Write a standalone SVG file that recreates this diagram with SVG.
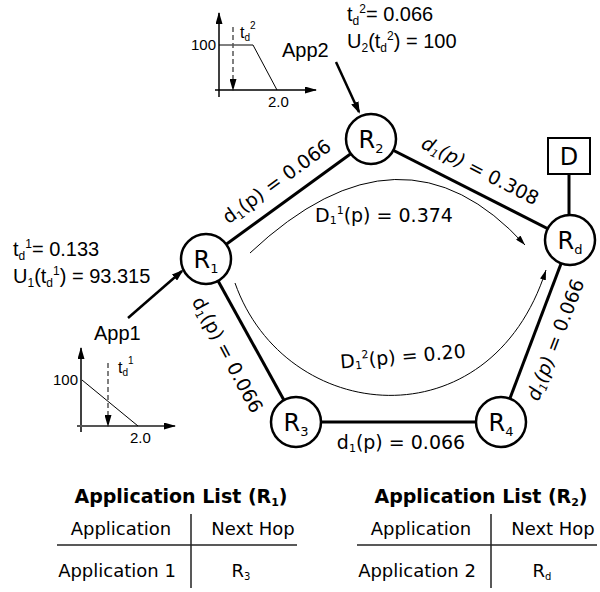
<svg xmlns="http://www.w3.org/2000/svg" width="600" height="592" viewBox="0 0 600 592">
<defs>
<style>
.ar{font-family:"Liberation Sans",Arial,sans-serif;fill:#000}
.vd{font-family:"DejaVu Sans",Verdana,sans-serif;fill:#000}
.big{font-size:20px}
.chart{font-size:15px}
.lab{font-size:19px}
.node{font-size:24px}
.tb{font-size:18px}
.edge{stroke:#000;stroke-width:3;fill:none}
.circ{fill:#fff;stroke:#000;stroke-width:2.5}
.thin{stroke:#000;stroke-width:1;fill:none}
.axis{stroke:#000;stroke-width:1.5;fill:none}
.dash{stroke:#555;stroke-width:1.5;stroke-dasharray:5,3;fill:none}
.rule{stroke:#222;stroke-width:1.5}
</style>
<marker id="ahBig" markerWidth="12" markerHeight="8" refX="10" refY="4" orient="auto" markerUnits="userSpaceOnUse"><path d="M0,0 L12,4 L0,8 Z" fill="#000"/></marker>
<marker id="ahSm" markerWidth="12" markerHeight="7" refX="11" refY="3.5" orient="auto" markerUnits="userSpaceOnUse"><path d="M0,0 L12,3.5 L0,7 Z" fill="#000"/></marker>
<marker id="ahCv" markerWidth="10" markerHeight="6" refX="10" refY="3" orient="auto" markerUnits="userSpaceOnUse"><path d="M0,0 L10,3 L0,6 Z" fill="#000"/></marker>
</defs>
<rect width="600" height="592" fill="#fff"/>

<g id="connectors">
<line class="edge" x1="206" y1="259" x2="371" y2="139"/>
<line class="edge" x1="371" y1="139" x2="570" y2="240"/>
<line class="edge" x1="570" y1="240" x2="501" y2="422"/>
<line class="edge" x1="501" y1="422" x2="296" y2="422"/>
<line class="edge" x1="296" y1="422" x2="206" y2="259"/>
<line class="edge" x1="569" y1="174" x2="569" y2="215"/>
<path class="thin" d="M250,253 Q402,110 525,245" marker-end="url(#ahCv)"/>
<path class="thin" d="M235,283 C285,425 490,445 546,270" marker-end="url(#ahCv)"/>
<line stroke="#000" stroke-width="2.5" x1="336" y1="62" x2="359" y2="112" marker-end="url(#ahBig)"/>
<line stroke="#000" stroke-width="2.5" x1="128" y1="318" x2="182" y2="271" marker-end="url(#ahBig)"/>
</g>

<g id="edge-labels">
<text class="vd lab" transform="translate(277,182) rotate(-36)" y="6" text-anchor="middle">d<tspan font-size="11" dy="3">1</tspan><tspan dy="-3">(p) = 0.066</tspan></text>
<text class="vd lab" transform="translate(480,171) rotate(27)" y="6" text-anchor="middle"><tspan font-style="italic">d</tspan><tspan font-size="11" dy="3" font-style="italic">1</tspan><tspan dy="-3" font-style="italic">(p)</tspan> = 0.308</text>
<text class="vd lab" transform="translate(556,340) rotate(-69)" y="6" text-anchor="middle"><tspan font-style="italic">d</tspan><tspan font-size="11" dy="3" font-style="italic">1</tspan><tspan dy="-3" font-style="italic">(p)</tspan> = 0.066</text>
<text class="vd lab" transform="translate(227,355) rotate(62)" y="6" text-anchor="middle">d<tspan font-size="11" dy="3">1</tspan><tspan dy="-3">(p) = 0.066</tspan></text>
<text class="vd lab" x="401" y="449" text-anchor="middle">d<tspan font-size="11" dy="3">1</tspan><tspan dy="-3">(p) = 0.066</tspan></text>
<text class="vd lab" x="315" y="222">D<tspan font-size="11" dy="2">1</tspan><tspan font-size="11" dy="-10">1</tspan><tspan dy="8">(p) = 0.374</tspan></text>
<text class="vd lab" transform="translate(403,357) rotate(-5)" y="6" text-anchor="middle">D<tspan font-size="11" dy="2">1</tspan><tspan font-size="11" dy="-10">2</tspan><tspan dy="8">(p) = 0.20</tspan></text>
</g>

<g id="node-R1"><circle class="circ" cx="206" cy="259" r="25"/><text class="vd node" x="206" y="268" text-anchor="middle">R<tspan font-size="13" dy="5">1</tspan></text></g>
<g id="node-R2"><circle class="circ" cx="371" cy="139" r="25"/><text class="vd node" x="371" y="148" text-anchor="middle">R<tspan font-size="13" dy="5">2</tspan></text></g>
<g id="node-Rd"><circle class="circ" cx="570" cy="240" r="25"/><text class="vd node" x="570" y="249" text-anchor="middle">R<tspan font-size="13" dy="5">d</tspan></text></g>
<g id="node-R3"><circle class="circ" cx="296" cy="422" r="25"/><text class="vd node" x="296" y="431" text-anchor="middle">R<tspan font-size="13" dy="5">3</tspan></text></g>
<g id="node-R4"><circle class="circ" cx="501" cy="422" r="25"/><text class="vd node" x="501" y="431" text-anchor="middle">R<tspan font-size="13" dy="5">4</tspan></text></g>
<g id="node-D"><rect x="548" y="138" width="42" height="36" fill="#fff" stroke="#000" stroke-width="2"/><text class="vd node" x="569" y="165" text-anchor="middle">D</text></g>

<g id="app2">
<text class="ar big" x="282" y="57">App2</text>
<text class="ar big" x="347" y="21">t<tspan font-size="12" dy="4">d</tspan><tspan font-size="12" dy="-12">2</tspan><tspan dy="8">= 0.066</tspan></text>
<text class="ar big" x="347" y="48">U<tspan font-size="12" dy="4">2</tspan><tspan dy="-4">(t</tspan><tspan font-size="12" dy="4">d</tspan><tspan font-size="12" dy="-12">2</tspan><tspan dy="8">) = 100</tspan></text>
</g>
<g id="chart-app2">
<line class="axis" x1="219" y1="97" x2="219" y2="13" marker-end="url(#ahSm)"/>
<line class="axis" x1="215" y1="90" x2="316" y2="90" marker-end="url(#ahSm)"/>
<polyline class="thin" points="219,45 253,45 277,90"/>
<line class="dash" x1="233" y1="27" x2="233" y2="90" marker-end="url(#ahSm)"/>
<text class="ar chart" x="216" y="50" text-anchor="end">100</text>
<text class="ar" font-size="16" x="240" y="38">t<tspan font-size="10" dy="3">d</tspan><tspan font-size="10" dy="-12">2</tspan></text>
<text class="ar chart" x="268" y="107">2.0</text>
</g>

<g id="app1">
<text class="ar big" x="94" y="340">App1</text>
<text class="ar big" x="13" y="256">t<tspan font-size="12" dy="4">d</tspan><tspan font-size="12" dy="-12">1</tspan><tspan dy="8">= 0.133</tspan></text>
<text class="ar big" x="13" y="283">U<tspan font-size="12" dy="4">1</tspan><tspan dy="-4">(t</tspan><tspan font-size="12" dy="4">d</tspan><tspan font-size="12" dy="-12">1</tspan><tspan dy="8">) = 93.315</tspan></text>
</g>
<g id="chart-app1">
<line class="axis" x1="81" y1="432" x2="81" y2="348" marker-end="url(#ahSm)"/>
<line stroke="#555" stroke-width="2" x1="77" y1="426" x2="175" y2="426" marker-end="url(#ahSm)"/>
<line class="thin" x1="82" y1="380" x2="138" y2="426"/>
<line class="dash" x1="108" y1="363" x2="108" y2="426" marker-end="url(#ahSm)"/>
<text class="ar chart" x="78" y="385" text-anchor="end">100</text>
<text class="ar" font-size="16" x="118" y="373">t<tspan font-size="10" dy="3">d</tspan><tspan font-size="10" dy="-12">1</tspan></text>
<text class="ar chart" x="130" y="443">2.0</text>
</g>

<g id="table-r1">
<text class="vd" font-size="19" font-weight="bold" x="181" y="503" text-anchor="middle">Application List (R<tspan font-size="11" dy="3">1</tspan><tspan dy="-3">)</tspan></text>
<text class="vd tb" x="121" y="535" text-anchor="middle">Application</text>
<text class="vd tb" x="253" y="535" text-anchor="middle">Next Hop</text>
<line class="rule" x1="57" y1="545" x2="297" y2="545"/>
<line class="rule" x1="191" y1="514" x2="191" y2="588"/>
<text class="vd tb" x="117" y="577" text-anchor="middle">Application 1</text>
<text class="vd tb" x="241" y="577" text-anchor="middle">R<tspan font-size="10" dy="3">3</tspan></text>
</g>
<g id="table-r2">
<text class="vd" font-size="19" font-weight="bold" x="481" y="503" text-anchor="middle">Application List (R<tspan font-size="11" dy="3">2</tspan><tspan dy="-3">)</tspan></text>
<text class="vd tb" x="421" y="535" text-anchor="middle">Application</text>
<text class="vd tb" x="553" y="535" text-anchor="middle">Next Hop</text>
<line class="rule" x1="357" y1="545" x2="597" y2="545"/>
<line class="rule" x1="491" y1="514" x2="491" y2="588"/>
<text class="vd tb" x="417" y="577" text-anchor="middle">Application 2</text>
<text class="vd tb" x="542" y="577" text-anchor="middle">R<tspan font-size="10" dy="3">d</tspan></text>
</g>
</svg>
